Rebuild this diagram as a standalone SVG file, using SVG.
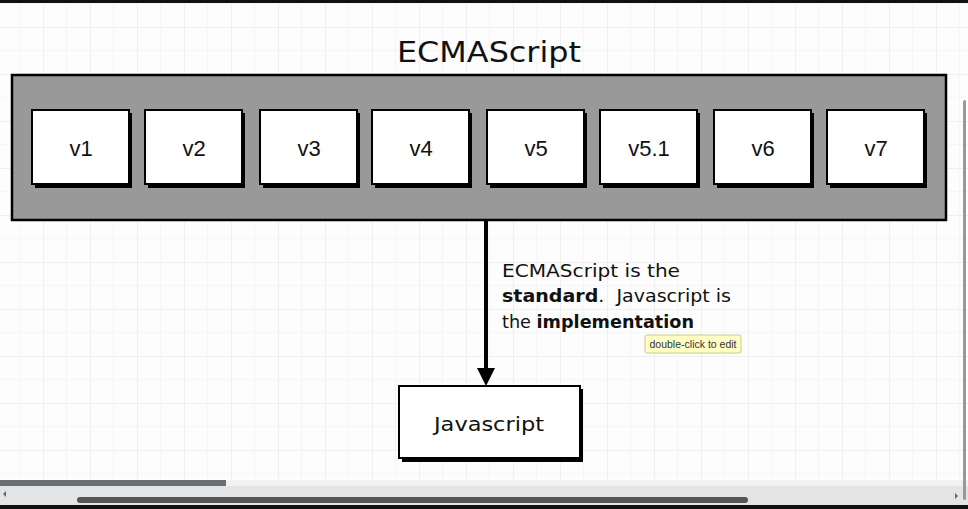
<svg xmlns="http://www.w3.org/2000/svg" width="968" height="509" viewBox="0 0 968 509">
<defs>
<pattern id="grid" patternUnits="userSpaceOnUse" x="43" y="27" width="47" height="47">
<path d="M0 0V47M0 0H47" stroke="#efefef" stroke-width="2" fill="none"/>
<path d="M23.5 0V47M0 23.5H47" stroke="#f6f6f6" stroke-width="1.5" fill="none"/>
</pattern>
</defs>
<style>
.ver{fill:#fff;stroke:#000;stroke-width:2}
.sh{fill:#000}
.lbl{font-family:"Liberation Sans",Arial,sans-serif;font-size:22px;fill:#111;text-anchor:middle}
.hand{font-family:"DejaVu Sans","Liberation Sans",sans-serif;fill:#111}
</style>
<rect x="0" y="0" width="968" height="509" fill="#fdfdfd"/>
<rect x="0" y="0" width="968" height="509" fill="url(#grid)"/>
<rect x="0" y="0" width="968" height="3" fill="#111"/>

<text class="hand" x="397" y="62" font-size="28" textLength="184" lengthAdjust="spacingAndGlyphs">ECMAScript</text>

<g id="ecmascript">
<rect x="12" y="75" width="934" height="145" fill="#999" stroke="#000" stroke-width="2.5"/>
</g>
<g id="v1"><rect class="sh" x="35" y="113" width="97" height="75"/><rect class="ver" x="32" y="110" width="97" height="74"/><text class="lbl" x="81" y="156">v1</text></g>
<g id="v2"><rect class="sh" x="148" y="113" width="97" height="75"/><rect class="ver" x="145" y="110" width="97" height="74"/><text class="lbl" x="194" y="156">v2</text></g>
<g id="v3"><rect class="sh" x="263" y="113" width="97" height="75"/><rect class="ver" x="260" y="110" width="97" height="74"/><text class="lbl" x="309" y="156">v3</text></g>
<g id="v4"><rect class="sh" x="375" y="113" width="97" height="75"/><rect class="ver" x="372" y="110" width="97" height="74"/><text class="lbl" x="421" y="156">v4</text></g>
<g id="v5"><rect class="sh" x="490" y="113" width="97" height="75"/><rect class="ver" x="487" y="110" width="97" height="74"/><text class="lbl" x="536" y="156">v5</text></g>
<g id="v5_1"><rect class="sh" x="603" y="113" width="97" height="75"/><rect class="ver" x="600" y="110" width="97" height="74"/><text class="lbl" x="649" y="156">v5.1</text></g>
<g id="v6"><rect class="sh" x="717" y="113" width="97" height="75"/><rect class="ver" x="714" y="110" width="97" height="74"/><text class="lbl" x="763" y="156">v6</text></g>
<g id="v7"><rect class="sh" x="830" y="113" width="97" height="75"/><rect class="ver" x="827" y="110" width="97" height="74"/><text class="lbl" x="876" y="156">v7</text></g>

<g id="connectors">
<line x1="486" y1="221" x2="486" y2="370" stroke="#000" stroke-width="4"/>
<path d="M477 368L495 368L486 386Z" fill="#000"/>
</g>

<g id="javascript">
<rect class="sh" x="402" y="389" width="181" height="73"/>
<rect class="ver" x="399" y="386" width="181" height="72"/>
<text class="hand" x="434" y="431" font-size="20" textLength="110" lengthAdjust="spacingAndGlyphs">Javascript</text>
</g>

<g id="note" class="hand" font-size="18">
<text x="502" y="277" textLength="178" lengthAdjust="spacingAndGlyphs">ECMAScript is the</text>
<text x="502" y="302" textLength="229" lengthAdjust="spacingAndGlyphs" xml:space="preserve"><tspan font-weight="bold">standard</tspan>.  Javascript is</text>
<text x="502" y="328" textLength="192" lengthAdjust="spacingAndGlyphs">the <tspan font-weight="bold">implementation</tspan></text>
</g>

<g id="tooltip">
<rect x="645" y="335" width="96" height="18" rx="2" fill="#ffffc4" stroke="#c9c98f" stroke-width="1"/>
<text x="693" y="348" font-family="'Liberation Sans',Arial,sans-serif" font-size="10.5" fill="#333" text-anchor="middle">double-click to edit</text>
</g>

<rect x="0" y="480" width="226" height="6" fill="#6b6f72"/>
<rect x="226" y="480" width="742" height="6" fill="#f2f2f2"/>
<rect x="0" y="486" width="968" height="19" fill="#e4e4e4"/>
<rect x="77" y="497" width="671" height="6" rx="3" fill="#555"/>
<path d="M3 494L6 491V497Z" fill="#666"/>
<path d="M958 496L955 493V499Z" fill="#666"/>
<rect x="0" y="505" width="968" height="4" fill="#111"/>
<rect x="963" y="100" width="3" height="400" rx="1.5" fill="#999"/>
</svg>
